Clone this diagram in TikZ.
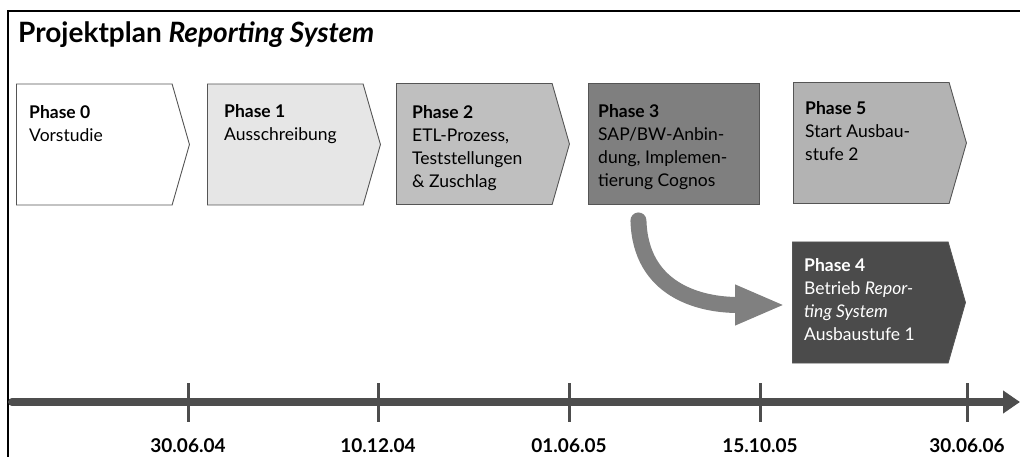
\documentclass[tikz,border=0pt]{standalone}
\usepackage{fontspec}
\setmainfont{Lato}
\usepackage{xcolor}
\usepackage{tikz}
\usetikzlibrary{shapes.symbols,arrows.meta,calc}
\definecolor{planrand}{HTML}{555555}
\definecolor{phasenull}{HTML}{FFFFFF}
\definecolor{phaseeins}{HTML}{E6E6E6}
\definecolor{phasezwei}{HTML}{BFBFBF}
\definecolor{phasedrei}{HTML}{7F7F7F}
\definecolor{phasevier}{HTML}{4B4B4B}
\definecolor{phasefuenf}{HTML}{B3B3B3}
\definecolor{planpfeil}{HTML}{808080}
\definecolor{planachse}{HTML}{4D4D4D}

\begin{document}
\begin{tikzpicture}[
    x=1pt,y=-1pt,
    phase/.style  = {signal, signal to=east, signal pointer angle=148,
                     draw=planrand, line width=0.9pt, inner sep=0pt,
                     minimum width=173pt, minimum height=121pt, anchor=west},
    block/.style  = {rectangle, draw=planrand, line width=0.9pt, inner sep=0pt,
                     minimum width=171pt, minimum height=121pt, anchor=west},
    ptext/.style  = {anchor=north west, inner sep=0pt, align=left,
                     font=\fontsize{17.5}{23}\selectfont},
    titel/.style  = {anchor=base west, inner sep=0pt,
                     font=\fontsize{28}{32}\selectfont\bfseries},
    datum/.style  = {anchor=base, inner sep=0pt,
                     font=\fontsize{19}{21}\selectfont\bfseries},
    achse/.style  = {planachse, line width=8pt, line cap=round,
                     -{Triangle[length=17pt,width=22pt]}},
    strich/.style = {planachse, line width=3pt},
    wechsel/.style= {planpfeil, line width=16pt, line cap=round,
                     -{Triangle[length=50pt,width=37pt]}},
  ]
  \useasboundingbox (0,0) rectangle (1020,457);

  % Rahmen und Titel
  \draw[line width=1.6pt] (8,457) -- (8,11) -- (1020,11);
  \node[titel] (titel) at (18,43) {Projektplan \textit{Reporting System}};

  % Phasen
  \node[phase, fill=phasenull]  (p0) at (16,144.5)  {};
  \node[phase, fill=phaseeins]  (p1) at (207,144.5) {};
  \node[phase, fill=phasezwei]  (p2) at (396,144)   {};
  \node[block, fill=phasedrei]  (p3) at (588,143.5) {};
  \node[phase, fill=phasefuenf] (p5) at (793,143)   {};
  \node[phase, fill=phasevier]  (p4) at (792,302.5) {};

  \node[ptext] (t0) at (29,105)  {\textbf{Phase 0}\\Vorstudie};
  \node[ptext] (t1) at (224,104) {\textbf{Phase 1}\\Ausschreibung};
  \node[ptext] (t2) at (412,105) {\textbf{Phase 2}\\ETL-Prozess,\\Teststellungen\\\& Zuschlag};
  \node[ptext] (t3) at (598,104) {\textbf{Phase 3}\\SAP/BW-Anbin-\\dung, Implemen-\\tierung Cognos};
  \node[ptext] (t5) at (805,101) {\textbf{Phase 5}\\Start Ausbau-\\stufe 2};
  \node[ptext, text=white] (t4) at (804,258)
       {\textbf{Phase 4}\\Betrieb \textit{Repor-}\\\textit{ting System}\\Ausbaustufe 1};

  % Uebergang Phase 3 -> Phase 4
  \coordinate (ws) at ([shift={(-35.5,16)}]p3.south);
  \coordinate (we) at ([shift={(-7,2.5)}]p4.west);
  \draw[wechsel] (ws) .. controls +(2,70) and +(-85,0) .. (we);

  % Zeitachse
  \coordinate (al) at (12,402);
  \coordinate (ar) at (1020,402);
  \draw[achse] (al) -- (ar);
  \foreach \x/\d [count=\i] in {188/30.06.04,378/10.12.04,569/01.06.05,
                                760/15.10.05,967/30.06.06} {
    \draw[strich] (\x,383) -- (\x,422);
    \node[datum] (d\i) at (\x,452) {\d};
  }
\end{tikzpicture}
\end{document}
